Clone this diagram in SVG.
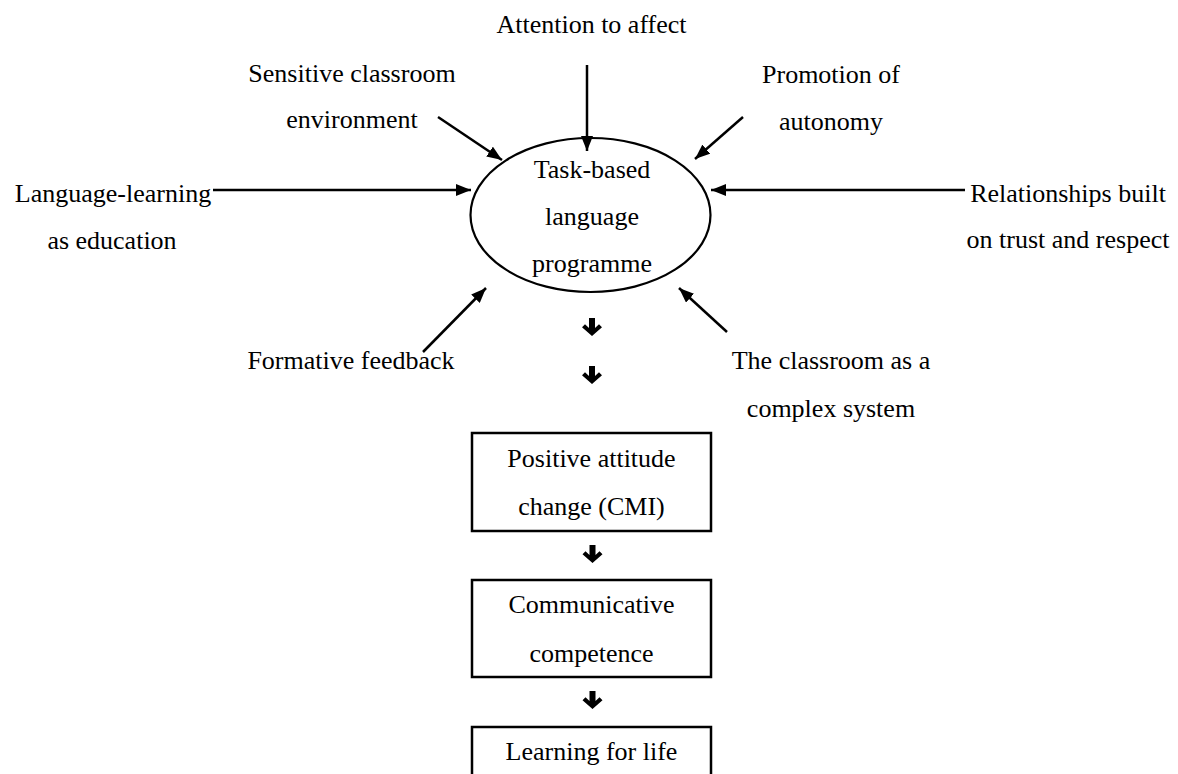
<svg xmlns="http://www.w3.org/2000/svg" width="1178" height="774" viewBox="0 0 1178 774">
<defs>
<style>
text{font-family:"Liberation Serif","Times New Roman",serif;font-size:26px;fill:#000;text-anchor:middle}
.ln{stroke:#000;stroke-width:2.5;fill:none}
.shape{stroke:#000;stroke-width:2.2;fill:#fff}
.box{stroke:#000;stroke-width:2.5;fill:#fff}
</style>
<marker id="ah" viewBox="0 0 15 12" refX="15" refY="6" markerWidth="15" markerHeight="12" markerUnits="userSpaceOnUse" orient="auto">
<path d="M0,0 L15,6 L0,12 Z" fill="#000"/>
</marker>
<path id="down" d="M-3,0 L3,0 L3,10 L7,6.2 L10,9.2 L0,18 L-10,9.2 L-7,6.2 L-3,10 Z" fill="#000"/>
</defs>
<rect width="1178" height="774" fill="#fff"/>
<g id="center">
<ellipse class="shape" cx="590.5" cy="215" rx="120" ry="77"/>
<text x="592" y="178">Task-based</text>
<text x="592" y="225">language</text>
<text x="592" y="272">programme</text>
</g>
<g id="connectors">
<line class="ln" x1="587" y1="65" x2="587" y2="151" marker-end="url(#ah)"/>
<line class="ln" x1="438" y1="117" x2="502" y2="160" marker-end="url(#ah)"/>
<line class="ln" x1="743" y1="117" x2="695" y2="159" marker-end="url(#ah)"/>
<line class="ln" x1="213" y1="190" x2="471" y2="190" marker-end="url(#ah)"/>
<line class="ln" x1="965" y1="190" x2="711" y2="190" marker-end="url(#ah)"/>
<line class="ln" x1="423" y1="352" x2="486" y2="288" marker-end="url(#ah)"/>
<line class="ln" x1="727" y1="332" x2="679" y2="288" marker-end="url(#ah)"/>
<use href="#down" x="592" y="318"/>
<use href="#down" x="592" y="366"/>
<use href="#down" x="592.5" y="545"/>
<use href="#down" x="592.5" y="691"/>
</g>
<g id="attention"><text x="591.5" y="33">Attention to affect</text></g>
<g id="sensitive"><text x="352" y="82">Sensitive classroom</text><text x="352" y="128">environment</text></g>
<g id="promotion"><text x="831" y="83">Promotion of</text><text x="831" y="130">autonomy</text></g>
<g id="language-learning"><text x="113" y="202">Language-learning</text><text x="112" y="249">as education</text></g>
<g id="relationships"><text x="1068" y="202">Relationships built</text><text x="1068" y="248">on trust and respect</text></g>
<g id="formative"><text x="351" y="369">Formative feedback</text></g>
<g id="classroom-system"><text x="831" y="369">The classroom as a</text><text x="831" y="417">complex system</text></g>
<g id="attitude">
<rect class="box" x="472" y="433" width="239" height="98"/>
<text x="591.5" y="467">Positive attitude</text>
<text x="591.5" y="515">change (CMI)</text>
</g>
<g id="competence">
<rect class="box" x="472" y="580" width="239" height="97"/>
<text x="591.5" y="613">Communicative</text>
<text x="591.5" y="662">competence</text>
</g>
<g id="life">
<rect class="box" x="472" y="727" width="239" height="70"/>
<text x="591.5" y="760">Learning for life</text>
</g>
</svg>
